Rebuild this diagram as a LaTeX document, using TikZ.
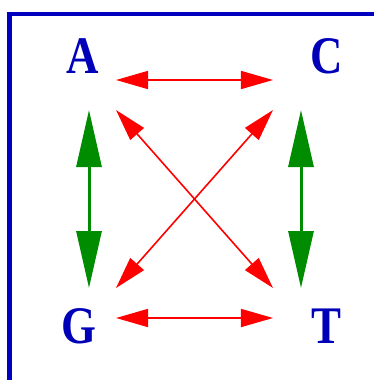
\documentclass[tikz,border=0pt]{standalone}
\usepackage{fontspec}
\setmainfont{Liberation Serif}
\usetikzlibrary{arrows.meta}
\definecolor{fblue}{RGB}{0,0,190}
\definecolor{lblue}{RGB}{0,0,185}
\definecolor{agreen}{RGB}{0,140,0}
\newcommand{\narrowletter}[1]{\scalebox{0.85}[1]{#1}}
\tikzset{
  letter/.style={inner sep=0pt, text=lblue, font=\fontsize{53}{53}\selectfont\bfseries},
  redarr/.style={red, line width=1.6bp, {Triangle[length=32bp,width=18bp]}-{Triangle[length=32bp,width=18bp]}},
  greenarr/.style={agreen, line width=3bp, {Triangle[length=57bp,width=25bp]}-{Triangle[length=57bp,width=25bp]}},
  frame/.style={fblue, line width=4bp}
}
\begin{document}
\begin{tikzpicture}[x=1bp,y=-1bp]
\useasboundingbox (0,0) rectangle (374,380);
\coordinate (f0) at (9.5,380);
\coordinate (f1) at (9.5,14);
\coordinate (f2) at (374,14);
\draw[frame] (f0) -- (f1) -- (f2);
\node[letter] (A) at (83,56.5) {\narrowletter{A}};
\node[letter] (C) at (327,56.5) {\narrowletter{C}};
\node[letter] (G) at (79,326) {\narrowletter{G}};
\node[letter] (T) at (326,326) {\narrowletter{T}};
\coordinate (ar) at (116,80);
\coordinate (cl) at (273,80);
\coordinate (gr) at (116,318);
\coordinate (tl) at (273,318);
\coordinate (ad) at (116,110);
\coordinate (cd) at (273,110);
\coordinate (gu) at (116,288);
\coordinate (tu) at (273,288);
\coordinate (ab) at (89,110);
\coordinate (gt) at (89,288);
\coordinate (cb) at (301,110);
\coordinate (tt) at (301,288);
\draw[redarr] (ar) -- (cl);
\draw[redarr] (gr) -- (tl);
\draw[redarr] (ad) -- (tu);
\draw[redarr] (cd) -- (gu);
\draw[greenarr] (ab) -- (gt);
\draw[greenarr] (cb) -- (tt);
\end{tikzpicture}
\end{document}
